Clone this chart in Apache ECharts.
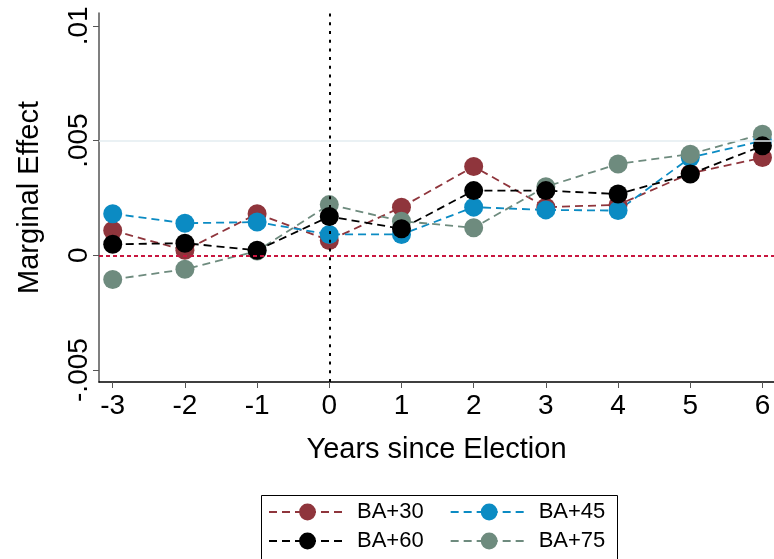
<!DOCTYPE html>
<html><head><meta charset="utf-8">
<script src="https://cdn.jsdelivr.net/npm/echarts@6/dist/echarts.min.js"></script>
<style>html,body{margin:0;padding:0;background:#fff}#c{width:774px;height:559px}</style>
</head><body><div id="c"></div>
<script>
const years = [-3,-2,-1,0,1,2,3,4,5,6];
const ba30 = [0.00108,0.00022,0.00181,0.00065,0.0021,0.00387,0.0021,0.0022,0.00357,0.00426];
const ba45 = [0.00181,0.0014,0.00145,0.00091,0.00091,0.0021,0.00198,0.00195,0.00426,0.00499];
const ba60 = [0.00048,0.00053,0.00022,0.00169,0.00116,0.00282,0.00282,0.00267,0.00354,0.00477];
const ba75 = [-0.00105,-0.00061,0.00019,0.00221,0.00149,0.0012,0.00299,0.00398,0.00441,0.00528];
const yTickValues = [-0.005,0,0.005,0.01];
const yTickLabels = ['-.005','0','.005','.01'];
const xTickValues = [-3,-2,-1,0,1,2,3,4,5,6];
const seriesNames = ['BA+30','BA+45','BA+60','BA+75'];
const seriesColors = ['#8f353c','#0b8bc3','#000000','#6e8b7e'];
const seriesValues = [ba30, ba45, ba60, ba75];
const seriesZ = [2, 2, 4, 3];

const FONT = 'Liberation Sans, Arial, sans-serif';
const chart = echarts.init(document.getElementById('c'), null, {renderer: 'canvas'});

const series = seriesNames.map((name, i) => ({
  name: name,
  type: 'line',
  z: seriesZ[i],
  data: years.map((x, j) => [x, seriesValues[i][j]]),
  symbol: 'circle',
  symbolSize: 19,
  itemStyle: {color: seriesColors[i]},
  lineStyle: {color: seriesColors[i], width: 1.8, type: [8, 5]},
  emphasis: {disabled: true},
  animation: false
}));

function refLine(item, style) {
  return {
    type: 'line', data: [], z: 1, silent: true,
    markLine: {silent: true, symbol: 'none', precision: 8, label: {show: false}, animation: false,
      lineStyle: style, emphasis: {disabled: true}, data: [item]}
  };
}
series.push(refLine({yAxis: 0.005}, {color: '#e3edf0', width: 1.5, type: 'solid'}));
series.push(refLine({yAxis: 0}, {color: '#c8163f', width: 2, type: [4, 3]}));
series.push(refLine({xAxis: 0}, {color: '#000', width: 2, type: [3, 5.7]}));

const option = {
  backgroundColor: '#fff',
  animation: false,
  grid: {left: 99, right: 0, top: 13, bottom: 559 - 382, containLabel: false, show: false},
  xAxis: {
    type: 'value', min: -3.19, max: 6.16,
    name: 'Years since Election', nameLocation: 'middle', nameGap: 53,
    nameTextStyle: {fontFamily: FONT, fontSize: 29, color: '#000'},
    axisLine: {onZero: false, lineStyle: {color: '#000', width: 1.5}},
    axisTick: {show: true, length: 6, lineStyle: {color: '#555'}, customValues: xTickValues},
    axisLabel: {fontFamily: FONT, fontSize: 28, color: '#000', margin: 10, customValues: xTickValues},
    splitLine: {show: false}
  },
  yAxis: {
    type: 'value', min: -0.00552, max: 0.01056,
    name: 'Marginal Effect', nameLocation: 'middle', nameGap: 55, nameRotate: 90,
    nameTextStyle: {fontFamily: FONT, fontSize: 29, color: '#000'},
    axisLine: {show: true, onZero: false, lineStyle: {color: '#555', width: 1.5}},
    axisTick: {show: true, length: 6, lineStyle: {color: '#555'}, customValues: yTickValues},
    axisLabel: {
      fontFamily: FONT, fontSize: 28, color: '#000', margin: 6, rotate: 90,
      customValues: yTickValues,
      formatter: v => {
        const k = yTickValues.findIndex(t => Math.abs(t - v) < 1e-9);
        return k >= 0 ? yTickLabels[k] : '';
      }
    },
    splitLine: {show: false}
  },
  legend: [
    {data: [seriesNames[0], seriesNames[1]], left: 268, top: 501, padding: 0, itemWidth: 77, itemHeight: 21, itemGap: 26,
     textStyle: {fontFamily: FONT, fontSize: 22, color: '#000', padding: [0, 0, 0, 6]}, selectedMode: false},
    {data: [seriesNames[2], seriesNames[3]], left: 268, top: 530, padding: 0, itemWidth: 77, itemHeight: 21, itemGap: 26,
     textStyle: {fontFamily: FONT, fontSize: 22, color: '#000', padding: [0, 0, 0, 6]}, selectedMode: false}
  ],
  graphic: [
    {type: 'rect', left: 259, top: 493, shape: {width: 356, height: 80},
     style: {fill: 'none', stroke: '#000', lineWidth: 1}, silent: true, z: 0}
  ],
  series: series
};
chart.setOption(option);
</script>
</body></html>
